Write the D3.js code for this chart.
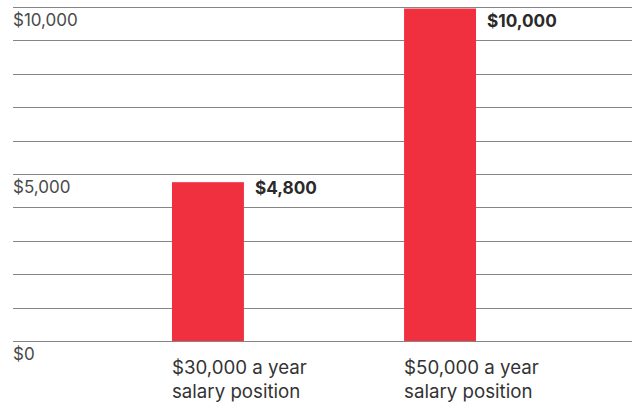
<!DOCTYPE html>
<html><head><meta charset="utf-8">
<script src="https://cdn.jsdelivr.net/npm/d3@7"></script>
<style>
html,body{margin:0;padding:0;background:#fff;}
svg{display:block;font-family:Inter, Roboto, sans-serif;}
</style></head>
<body><svg id="chart" width="635" height="403"></svg>
<script>
const categories = ["$30,000 a year|salary position", "$50,000 a year|salary position"];
const values = [4800, 10000];
const valueLabels = ["$4,800", "$10,000"];
const tickValues = [0,1000,2000,3000,4000,5000,6000,7000,8000,9000,10000];
const tickLabels = {0:"$0", 5000:"$5,000", 10000:"$10,000"};

const svg = d3.select("#chart");
const y = d3.scaleLinear().domain([0,10000]).range([341,7]);
const x = d3.scaleBand().domain(categories).range([13,635]).paddingInner(0.69).paddingOuter(0.685);

svg.append("g").selectAll("line").data(tickValues).join("line")
  .attr("x1",13).attr("x2",632)
  .attr("y1",d=>Math.round(y(d))+0.5).attr("y2",d=>Math.round(y(d))+0.5)
  .attr("stroke","#858585").attr("stroke-width",1);

svg.append("g").selectAll("text").data(tickValues.filter(d=>tickLabels[d])).join("text")
  .attr("x",13).attr("y",d=>y(d)+19)
  .attr("font-size",17).attr("fill","#4a4a4a")
  .text(d=>tickLabels[d]);

svg.append("g").selectAll("rect").data(values).join("rect")
  .attr("x",(d,i)=>x(categories[i])).attr("width",x.bandwidth())
  .attr("y",d=>y(d)+1.5).attr("height",d=>y(0)-y(d)-1.5)
  .attr("fill","#f0303e");

// value labels aligned with the nearest labelled gridline row above the bar top
svg.append("g").selectAll("text").data(values).join("text")
  .attr("x",(d,i)=>x(categories[i])+x.bandwidth()+11)
  .attr("y",d=>y(Math.ceil(d/5000)*5000)+19.5)
  .attr("font-size",17.2).attr("font-weight","bold").attr("fill","#2a2a2a")
  .text((d,i)=>valueLabels[i]);

const cl = svg.append("g").selectAll("text").data(categories).join("text")
  .attr("x",d=>x(d)).attr("y",374)
  .attr("font-size",18.7).attr("fill","#333");
cl.each(function(d){
  const parts = d.split("|");
  d3.select(this).selectAll("tspan").data(parts).join("tspan")
    .attr("x",x(d)).attr("dy",(p,i)=>i===0?0:23.5).text(p=>p);
});
</script></body></html>
